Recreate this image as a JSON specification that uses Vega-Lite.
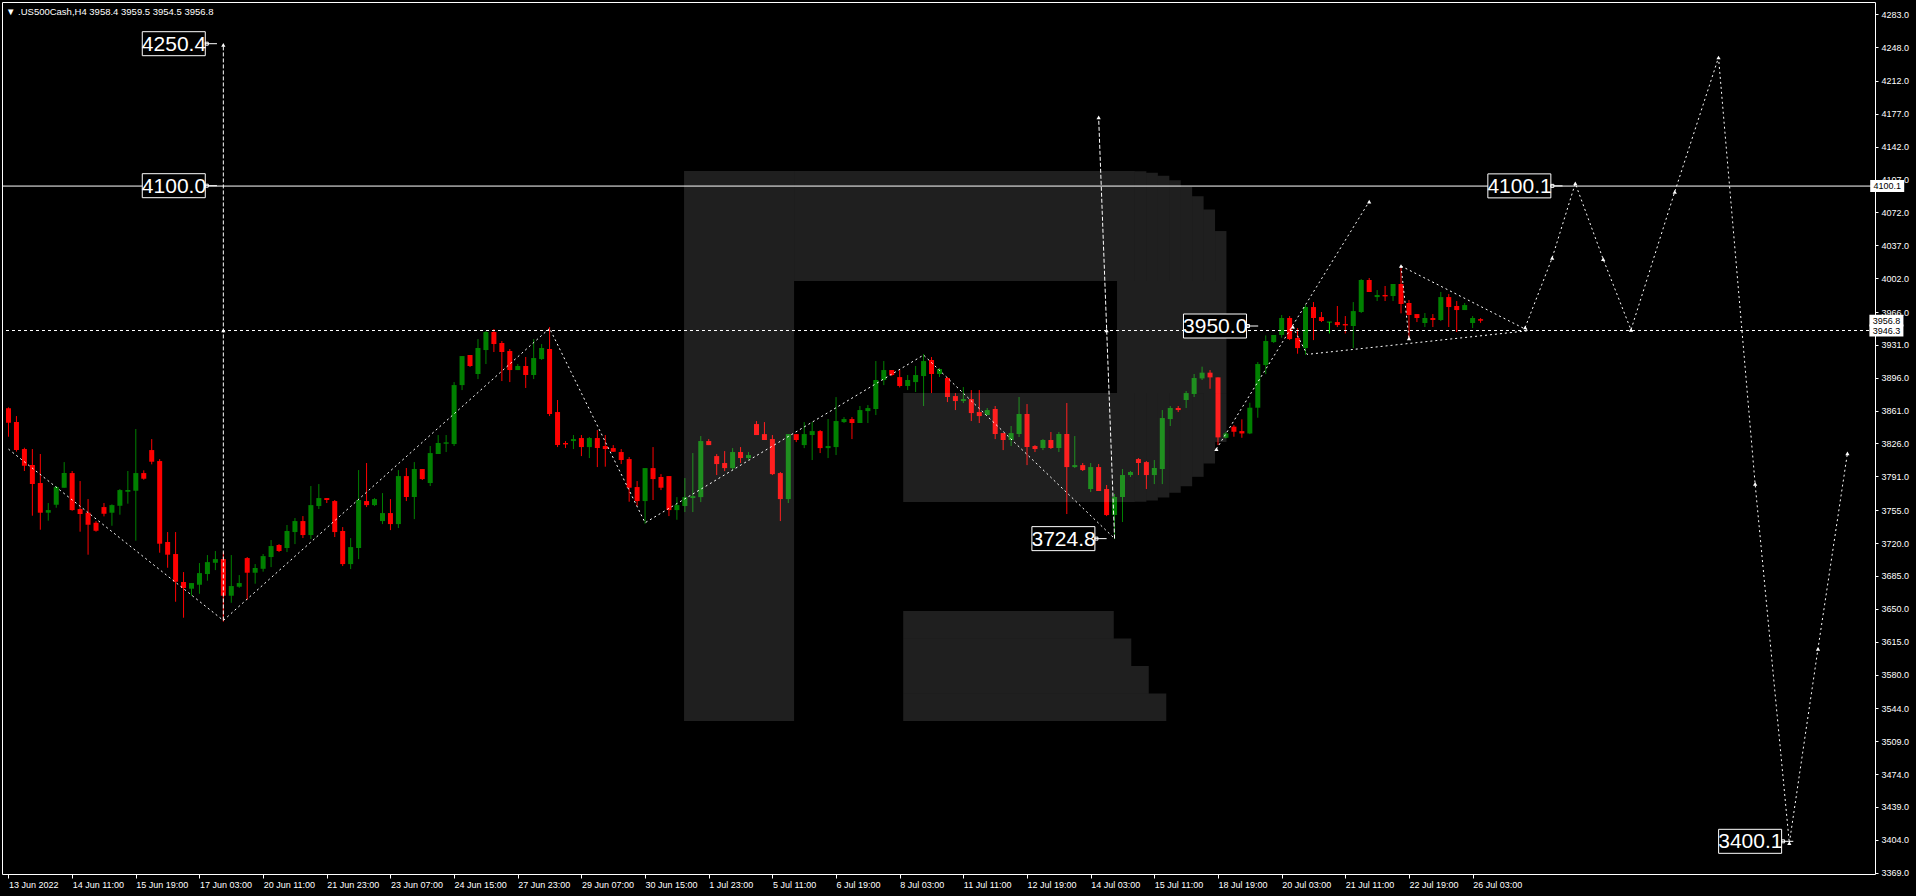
{
"$schema":"https://vega.github.io/schema/vega-lite/v6.json",
"width":1873,"height":872,
"autosize":{"type":"none"},
"padding":{"left":2,"top":2,"right":41,"bottom":22},
"background":"#000000",
"config":{"view":{"stroke":"#ffffff","strokeWidth":1},"font":"Liberation Sans","axis":{"labelOverlap":false,"labelBound":false,"labelFlush":false,"labelSeparation":0}},
"title":{"text":"\u25BC  .US500Cash,H4  3958.4 3959.5 3954.5 3956.8","anchor":"start","frame":"group","orient":"none","offset":0,"dy":10,"baseline":"middle","dx":4,"fontSize":9.5,"fontWeight":"normal","color":"#ffffff","font":"Liberation Sans"},
"datasets":{
"candles":[
{"i":0,"o":3863.4,"h":3864.5,"l":3833.2,"c":3848.1},{"i":1,"o":3848.8,"h":3855.2,"l":3817.3,"c":3819.0},{"i":2,"o":3820.1,"h":3821.5,"l":3796.7,"c":3802.3},{"i":3,"o":3803.0,"h":3820.1,"l":3749.1,"c":3782.8},{"i":4,"o":3783.9,"h":3814.8,"l":3734.2,"c":3752.3},{"i":5,"o":3752.3,"h":3762.6,"l":3743.8,"c":3755.1},{"i":6,"o":3760.8,"h":3780.7,"l":3757.6,"c":3779.6},{"i":7,"o":3778.9,"h":3806.2,"l":3778.9,"c":3794.5},{"i":8,"o":3794.5,"h":3796.7,"l":3754.4,"c":3755.1},{"i":9,"o":3756.2,"h":3786.0,"l":3732.1,"c":3750.9},
{"i":10,"o":3752.3,"h":3766.8,"l":3707.6,"c":3739.5},{"i":11,"o":3741.6,"h":3743.4,"l":3732.1,"c":3733.1},{"i":12,"o":3758.3,"h":3762.6,"l":3748.4,"c":3751.2},{"i":13,"o":3752.3,"h":3761.2,"l":3738.4,"c":3760.4},{"i":14,"o":3759.7,"h":3777.5,"l":3750.2,"c":3776.4},{"i":15,"o":3774.6,"h":3796.7,"l":3761.9,"c":3776.4},{"i":16,"o":3775.7,"h":3841.4,"l":3722.5,"c":3794.5},{"i":17,"o":3794.5,"h":3797.4,"l":3787.4,"c":3788.5},{"i":18,"o":3819.0,"h":3830.7,"l":3803.8,"c":3806.6},{"i":19,"o":3807.3,"h":3809.4,"l":3709.7,"c":3719.3},
{"i":20,"o":3721.1,"h":3731.7,"l":3693.7,"c":3707.6},{"i":21,"o":3708.3,"h":3731.7,"l":3657.5,"c":3678.8},{"i":22,"o":3678.5,"h":3689.1,"l":3640.5,"c":3672.1},{"i":23,"o":3671.4,"h":3677.4,"l":3663.9,"c":3677.4},{"i":24,"o":3675.6,"h":3698.7,"l":3666.0,"c":3688.0},{"i":25,"o":3687.0,"h":3707.2,"l":3679.9,"c":3699.7},{"i":26,"o":3699.0,"h":3711.5,"l":3691.2,"c":3702.9},{"i":27,"o":3702.9,"h":3710.8,"l":3636.2,"c":3663.9},{"i":28,"o":3663.9,"h":3707.2,"l":3656.4,"c":3674.2},{"i":29,"o":3673.5,"h":3685.9,"l":3672.4,"c":3677.4},
{"i":30,"o":3704.0,"h":3705.1,"l":3659.6,"c":3688.4},{"i":31,"o":3688.4,"h":3697.6,"l":3676.7,"c":3693.4},{"i":32,"o":3692.6,"h":3708.3,"l":3689.5,"c":3706.1},{"i":33,"o":3705.1,"h":3723.2,"l":3694.4,"c":3716.8},{"i":34,"o":3717.9,"h":3718.9,"l":3710.4,"c":3711.5},{"i":35,"o":3714.7,"h":3739.2,"l":3710.4,"c":3732.8},{"i":36,"o":3731.7,"h":3746.6,"l":3718.9,"c":3743.4},{"i":37,"o":3743.4,"h":3748.7,"l":3725.3,"c":3728.5},{"i":38,"o":3728.5,"h":3780.7,"l":3724.2,"c":3760.4},{"i":39,"o":3759.4,"h":3782.8,"l":3756.2,"c":3767.9},
{"i":40,"o":3767.9,"h":3767.9,"l":3762.6,"c":3765.8},{"i":41,"o":3764.7,"h":3765.8,"l":3726.4,"c":3731.7},{"i":42,"o":3732.8,"h":3737.0,"l":3695.5,"c":3697.6},{"i":43,"o":3697.6,"h":3725.3,"l":3692.3,"c":3715.7},{"i":44,"o":3714.7,"h":3797.7,"l":3702.9,"c":3765.8},{"i":45,"o":3764.7,"h":3805.2,"l":3758.3,"c":3760.4},{"i":46,"o":3760.4,"h":3767.9,"l":3759.4,"c":3766.8},{"i":47,"o":3743.4,"h":3773.2,"l":3740.2,"c":3751.9},{"i":48,"o":3751.9,"h":3766.8,"l":3733.8,"c":3740.2},{"i":49,"o":3740.2,"h":3797.7,"l":3736.0,"c":3791.3},
{"i":50,"o":3791.3,"h":3799.9,"l":3764.7,"c":3769.0},{"i":51,"o":3769.0,"h":3806.2,"l":3745.5,"c":3798.8},{"i":52,"o":3798.8,"h":3798.8,"l":3787.1,"c":3788.1},{"i":53,"o":3783.9,"h":3823.3,"l":3780.7,"c":3815.8},{"i":54,"o":3814.8,"h":3835.0,"l":3814.8,"c":3826.5},{"i":55,"o":3825.8,"h":3835.0,"l":3816.9,"c":3826.8},{"i":56,"o":3825.4,"h":3891.4,"l":3823.3,"c":3888.2},{"i":57,"o":3888.2,"h":3919.1,"l":3882.9,"c":3919.1},{"i":58,"o":3920.2,"h":3920.2,"l":3907.4,"c":3908.5},{"i":59,"o":3900.0,"h":3937.2,"l":3894.6,"c":3927.7},
{"i":60,"o":3925.5,"h":3945.8,"l":3910.6,"c":3944.7},{"i":61,"o":3944.7,"h":3947.9,"l":3923.4,"c":3931.9},{"i":62,"o":3933.0,"h":3935.1,"l":3892.5,"c":3923.4},{"i":63,"o":3924.5,"h":3926.6,"l":3891.4,"c":3904.2},{"i":64,"o":3904.2,"h":3910.6,"l":3904.2,"c":3908.5},{"i":65,"o":3908.5,"h":3918.1,"l":3885.1,"c":3898.9},{"i":66,"o":3898.9,"h":3937.2,"l":3894.6,"c":3917.0},{"i":67,"o":3915.9,"h":3931.9,"l":3914.9,"c":3927.7},{"i":68,"o":3926.6,"h":3950.0,"l":3855.2,"c":3857.4},{"i":69,"o":3859.5,"h":3872.3,"l":3822.2,"c":3824.4},
{"i":70,"o":3826.5,"h":3828.6,"l":3821.2,"c":3825.4},{"i":71,"o":3828.6,"h":3835.0,"l":3820.1,"c":3830.7},{"i":72,"o":3831.8,"h":3835.0,"l":3812.6,"c":3822.2},{"i":73,"o":3822.2,"h":3832.9,"l":3810.5,"c":3831.8},{"i":74,"o":3831.8,"h":3840.3,"l":3800.9,"c":3821.2},{"i":75,"o":3823.3,"h":3835.0,"l":3801.3,"c":3820.1},{"i":76,"o":3821.1,"h":3824.3,"l":3817.2,"c":3817.2},{"i":77,"o":3816.9,"h":3820.1,"l":3804.1,"c":3808.4},{"i":78,"o":3809.4,"h":3811.6,"l":3764.0,"c":3778.9},{"i":79,"o":3779.6,"h":3786.0,"l":3759.7,"c":3764.7},
{"i":80,"o":3764.7,"h":3799.8,"l":3740.5,"c":3799.8},{"i":81,"o":3799.8,"h":3822.2,"l":3765.8,"c":3788.1},{"i":82,"o":3790.3,"h":3793.4,"l":3776.4,"c":3778.9},{"i":83,"o":3791.3,"h":3791.3,"l":3748.7,"c":3755.1},{"i":84,"o":3755.1,"h":3768.9,"l":3744.8,"c":3760.4},{"i":85,"o":3759.4,"h":3789.2,"l":3753.0,"c":3768.9},{"i":86,"o":3767.9,"h":3815.8,"l":3753.0,"c":3770.0},{"i":87,"o":3768.9,"h":3833.9,"l":3763.6,"c":3828.6},{"i":88,"o":3828.6,"h":3830.7,"l":3824.3,"c":3824.3},{"i":89,"o":3812.6,"h":3814.7,"l":3792.4,"c":3804.1},
{"i":90,"o":3805.2,"h":3817.9,"l":3796.6,"c":3799.8},{"i":91,"o":3799.8,"h":3821.1,"l":3797.7,"c":3816.9},{"i":92,"o":3816.9,"h":3822.2,"l":3805.2,"c":3810.5},{"i":93,"o":3810.5,"h":3816.9,"l":3808.4,"c":3813.7},{"i":94,"o":3846.7,"h":3849.9,"l":3835.0,"c":3835.0},{"i":95,"o":3836.0,"h":3848.8,"l":3829.7,"c":3829.7},{"i":96,"o":3830.7,"h":3835.0,"l":3792.4,"c":3793.4},{"i":97,"o":3794.5,"h":3795.6,"l":3743.4,"c":3766.8},{"i":98,"o":3766.8,"h":3836.0,"l":3762.6,"c":3836.0},{"i":99,"o":3836.0,"h":3836.0,"l":3827.5,"c":3829.7},
{"i":100,"o":3824.3,"h":3848.8,"l":3821.1,"c":3836.0},{"i":101,"o":3835.0,"h":3848.8,"l":3808.4,"c":3839.2},{"i":102,"o":3839.2,"h":3840.3,"l":3815.8,"c":3821.1},{"i":103,"o":3821.1,"h":3852.0,"l":3810.5,"c":3823.3},{"i":104,"o":3822.2,"h":3875.4,"l":3813.7,"c":3849.9},{"i":105,"o":3848.8,"h":3854.1,"l":3847.8,"c":3852.0},{"i":106,"o":3852.0,"h":3854.1,"l":3830.7,"c":3847.8},{"i":107,"o":3847.8,"h":3865.9,"l":3847.8,"c":3861.6},{"i":108,"o":3860.5,"h":3866.9,"l":3847.8,"c":3863.7},{"i":109,"o":3862.7,"h":3913.8,"l":3856.3,"c":3893.6},
{"i":110,"o":3893.6,"h":3913.8,"l":3888.2,"c":3904.2},{"i":111,"o":3904.2,"h":3904.2,"l":3897.8,"c":3898.9},{"i":112,"o":3896.7,"h":3904.2,"l":3885.7,"c":3887.2},{"i":113,"o":3887.2,"h":3898.9,"l":3882.9,"c":3893.6},{"i":114,"o":3891.4,"h":3908.5,"l":3880.8,"c":3898.9},{"i":115,"o":3897.8,"h":3921.3,"l":3865.9,"c":3913.8},{"i":116,"o":3914.9,"h":3918.1,"l":3879.7,"c":3900.0},{"i":117,"o":3900.0,"h":3906.4,"l":3896.8,"c":3905.3},{"i":118,"o":3895.7,"h":3896.8,"l":3870.1,"c":3875.5},{"i":119,"o":3876.5,"h":3879.7,"l":3861.6,"c":3871.2},
{"i":120,"o":3871.2,"h":3886.1,"l":3869.1,"c":3873.3},{"i":121,"o":3873.3,"h":3882.9,"l":3849.9,"c":3858.4},{"i":122,"o":3859.5,"h":3882.9,"l":3847.8,"c":3855.2},{"i":123,"o":3856.3,"h":3863.8,"l":3856.3,"c":3861.6},{"i":124,"o":3862.7,"h":3865.9,"l":3830.7,"c":3836.1},{"i":125,"o":3837.1,"h":3837.1,"l":3819.0,"c":3829.7},{"i":126,"o":3829.7,"h":3844.6,"l":3823.3,"c":3837.1},{"i":127,"o":3836.1,"h":3875.5,"l":3832.9,"c":3857.4},{"i":128,"o":3857.4,"h":3868.0,"l":3803.0,"c":3822.2},{"i":129,"o":3823.3,"h":3824.3,"l":3816.9,"c":3820.1},
{"i":130,"o":3821.2,"h":3830.7,"l":3819.0,"c":3829.7},{"i":131,"o":3829.7,"h":3838.2,"l":3820.1,"c":3821.2},{"i":132,"o":3821.2,"h":3838.2,"l":3816.9,"c":3836.1},{"i":133,"o":3836.1,"h":3869.1,"l":3750.9,"c":3800.9},{"i":134,"o":3800.9,"h":3833.9,"l":3799.9,"c":3803.0},{"i":135,"o":3803.0,"h":3805.2,"l":3796.7,"c":3797.7},{"i":136,"o":3777.5,"h":3805.2,"l":3774.3,"c":3800.9},{"i":137,"o":3800.9,"h":3804.1,"l":3775.4,"c":3775.4},{"i":138,"o":3777.5,"h":3781.8,"l":3748.7,"c":3749.8},{"i":139,"o":3749.8,"h":3772.2,"l":3724.2,"c":3769.0},
{"i":140,"o":3769.0,"h":3798.8,"l":3742.4,"c":3792.4},{"i":141,"o":3792.4,"h":3796.7,"l":3790.3,"c":3795.6},{"i":142,"o":3809.4,"h":3810.5,"l":3792.4,"c":3805.2},{"i":143,"o":3806.2,"h":3807.3,"l":3777.5,"c":3792.4},{"i":144,"o":3792.4,"h":3808.4,"l":3782.8,"c":3799.9},{"i":145,"o":3798.8,"h":3861.6,"l":3782.8,"c":3853.1},{"i":146,"o":3852.0,"h":3865.9,"l":3844.6,"c":3863.8},{"i":147,"o":3863.8,"h":3865.9,"l":3859.5,"c":3861.6},{"i":148,"o":3872.3,"h":3881.9,"l":3863.8,"c":3879.7},{"i":149,"o":3878.7,"h":3900.0,"l":3875.5,"c":3895.7},
{"i":150,"o":3895.3,"h":3907.8,"l":3893.6,"c":3901.4},{"i":151,"o":3901.4,"h":3904.2,"l":3884.3,"c":3896.4},{"i":152,"o":3896.4,"h":3896.4,"l":3824.3,"c":3832.5},{"i":153,"o":3832.1,"h":3838.2,"l":3831.4,"c":3836.7},{"i":154,"o":3843.9,"h":3845.6,"l":3833.2,"c":3838.5},{"i":155,"o":3839.2,"h":3851.7,"l":3832.1,"c":3836.7},{"i":156,"o":3836.7,"h":3869.4,"l":3836.0,"c":3864.1},{"i":157,"o":3864.1,"h":3912.7,"l":3853.4,"c":3910.6},{"i":158,"o":3909.5,"h":3941.1,"l":3899.9,"c":3935.1},{"i":159,"o":3934.0,"h":3941.5,"l":3933.0,"c":3941.5},
{"i":160,"o":3941.5,"h":3962.8,"l":3938.6,"c":3959.6},{"i":161,"o":3959.6,"h":3961.7,"l":3936.1,"c":3937.2},{"i":162,"o":3938.3,"h":3948.9,"l":3921.6,"c":3927.6},{"i":163,"o":3927.6,"h":3973.4,"l":3920.5,"c":3971.3},{"i":164,"o":3971.3,"h":3976.6,"l":3936.1,"c":3959.6},{"i":165,"o":3960.6,"h":3966.0,"l":3955.3,"c":3956.4},{"i":166,"o":3955.3,"h":3955.3,"l":3943.2,"c":3955.3},{"i":167,"o":3955.3,"h":3972.4,"l":3950.0,"c":3952.1},{"i":168,"o":3953.2,"h":3961.7,"l":3943.2,"c":3952.1},{"i":169,"o":3951.1,"h":3976.6,"l":3927.6,"c":3967.0},
{"i":170,"o":3966.0,"h":4001.1,"l":3964.9,"c":4000.1},{"i":171,"o":4000.1,"h":4002.2,"l":3987.3,"c":3987.3},{"i":172,"o":3981.9,"h":3989.4,"l":3977.7,"c":3984.1},{"i":173,"o":3984.1,"h":3993.7,"l":3977.7,"c":3983.0},{"i":174,"o":3983.0,"h":3995.8,"l":3977.7,"c":3995.8},{"i":175,"o":3995.8,"h":4015.0,"l":3964.6,"c":3974.5},{"i":176,"o":3975.6,"h":3978.8,"l":3937.9,"c":3962.8},{"i":177,"o":3963.8,"h":3963.8,"l":3955.3,"c":3959.6},{"i":178,"o":3954.3,"h":3964.9,"l":3950.0,"c":3959.6},{"i":179,"o":3959.6,"h":3963.8,"l":3950.0,"c":3957.5},
{"i":180,"o":3957.5,"h":3987.3,"l":3956.4,"c":3981.9},{"i":181,"o":3981.9,"h":3985.1,"l":3950.0,"c":3971.3},{"i":182,"o":3972.4,"h":3977.7,"l":3944.7,"c":3968.1},{"i":183,"o":3968.1,"h":3975.6,"l":3968.1,"c":3973.4},{"i":184,"o":3954.3,"h":3961.7,"l":3948.9,"c":3959.6},{"i":185,"o":3958.4,"h":3959.5,"l":3954.5,"c":3956.8}
],
"paths":[
{"seg":"A","style":"dot","k":0,"i":0,"p":3820.0},{"seg":"A","style":"dot","k":1,"i":27,"p":3637.6},{"seg":"A","style":"dot","k":2,"i":68,"p":3948.6},{"seg":"A","style":"dot","k":3,"i":80,"p":3741.6},{"seg":"A","style":"dot","k":4,"i":115,"p":3920.2},{"seg":"A","style":"dot","k":5,"i":139,"p":3724.8},
{"seg":"B","style":"dash","k":0,"i":27,"p":3637.6},{"seg":"B","style":"dash","k":1,"i":27,"p":4250.4},
{"seg":"C","style":"dash","k":0,"i":139,"p":3724.8},{"seg":"C","style":"dash","k":1,"i":137,"p":4173.3},
{"seg":"D","style":"dot","k":0,"i":151.8,"p":3820.0},{"seg":"D","style":"dot","k":1,"i":171,"p":4083.6},
{"seg":"E","style":"dot","k":0,"i":161.4,"p":3950.3},{"seg":"E","style":"dot","k":1,"i":163.2,"p":3920.9},{"seg":"E","style":"dot","k":2,"i":191,"p":3946.1},
{"seg":"G","style":"dot","k":0,"i":175,"p":4015.0},{"seg":"G","style":"dot","k":1,"i":191,"p":3946.1},
{"seg":"H","style":"dot","k":0,"i":175,"p":4015.0},{"seg":"H","style":"dot","k":1,"i":176,"p":3938.0},
{"seg":"I","style":"dot","k":0,"i":190.6,"p":3949.5},{"seg":"I","style":"dot","k":1,"i":194,"p":4023.7},{"seg":"I","style":"dot","k":2,"i":196.9,"p":4103.0},{"seg":"I","style":"dot","k":3,"i":200.4,"p":4022.4},{"seg":"I","style":"dot","k":4,"i":203.9,"p":3947.0},{"seg":"I","style":"dot","k":5,"i":209.4,"p":4094.0},{"seg":"I","style":"dot","k":6,"i":214.9,"p":4237.0},{"seg":"I","style":"dot","k":7,"i":219.5,"p":3783.0},{"seg":"I","style":"dot","k":8,"i":223.8,"p":3400.4},{"seg":"I","style":"dot","k":9,"i":227.4,"p":3607.4},{"seg":"I","style":"dot","k":10,"i":231.1,"p":3815.5}
],
"marks":[
{"i":27,"p":4250.4},{"i":27,"p":3946.3},{"i":138.0,"p":3946.3},{"i":137,"p":4173.3},{"i":171,"p":4083.6},{"i":151.8,"p":3820.0},{"i":161.4,"p":3950.3},{"i":175,"p":4015.0},{"i":176,"p":3938.0},{"i":190.6,"p":3949.5},{"i":194,"p":4023.7},{"i":196.9,"p":4103.0},{"i":200.4,"p":4022.4},{"i":203.9,"p":3947.0},{"i":209.4,"p":4094.0},{"i":214.9,"p":4237.0},{"i":219.5,"p":3783.0},{"i":223.8,"p":3400.4},{"i":227.4,"p":3607.4},{"i":231.1,"p":3815.5}
],
"labels":[
{"i":26.2,"p":4251.7,"text":"4250.4"},{"i":26.2,"p":4100.5,"text":"4100.0"},{"i":157.05,"p":3951.1,"text":"3950.0"},{"i":138.0,"p":3724.7,"text":"3724.8"},{"i":195.3,"p":4100.3,"text":"4100.1"},{"i":224.3,"p":3402.4,"text":"3400.1"}
],
"hlines":[{"p":4100.1,"style":"solid"},{"p":3946.3,"style":"dash"}],
"axisbox":[{"i":236.1,"p":4100.1,"text":"4100.1"},{"i":236.0,"p":3956.8,"text":"3956.8"},{"i":236.0,"p":3946.3,"text":"3946.3"}],
"logo":[
{"x1":84.9,"x2":98.725,"y1":3530.4,"y2":4116.1},
{"x1":98.725,"x2":141.56,"y1":3999.0,"y2":4116.1},
{"x1":141.56,"x2":143.0,"y1":3999.0,"y2":4115.9},
{"x1":143.0,"x2":144.44,"y1":3999.0,"y2":4114.4},
{"x1":144.44,"x2":145.88,"y1":3999.0,"y2":4111.2},
{"x1":145.88,"x2":147.31,"y1":3999.0,"y2":4106.2},
{"x1":147.31,"x2":148.75,"y1":3999.0,"y2":4099.2},
{"x1":148.75,"x2":150.19,"y1":3999.0,"y2":4089.3},
{"x1":150.19,"x2":151.63,"y1":3999.0,"y2":4075.2},
{"x1":151.63,"x2":153.06,"y1":3999.0,"y2":4052.2},
{"x1":139.31,"x2":153.06,"y1":3879.7,"y2":3999.0},
{"x1":112.44,"x2":141.56,"y1":3763.6,"y2":3879.7},
{"x1":141.56,"x2":143.0,"y1":3763.9,"y2":3879.7},
{"x1":143.0,"x2":144.44,"y1":3765.4,"y2":3879.7},
{"x1":144.44,"x2":145.88,"y1":3768.6,"y2":3879.7},
{"x1":145.88,"x2":147.31,"y1":3773.6,"y2":3879.7},
{"x1":147.31,"x2":148.75,"y1":3780.6,"y2":3879.7},
{"x1":148.75,"x2":150.19,"y1":3790.5,"y2":3879.7},
{"x1":150.19,"x2":151.63,"y1":3804.6,"y2":3879.7},
{"x1":151.63,"x2":153.06,"y1":3827.6,"y2":3879.7},
{"x1":112.44,"x2":138.9,"y1":3618.3,"y2":3647.6},
{"x1":112.44,"x2":141.1,"y1":3589.1,"y2":3618.3},
{"x1":112.44,"x2":143.3,"y1":3559.8,"y2":3589.1},
{"x1":112.44,"x2":145.5,"y1":3530.4,"y2":3559.8}
]
},
"layer":[
{"data":{"name":"candles"},"mark":{"type":"rule","orient":"vertical","strokeWidth":1},
 "encoding":{
  "x":{"field":"i","type":"quantitative","scale":{"domain":[-0.1875,233.9375],"nice":false,"zero":false},
   "axis":{"orient":"bottom","values":[0,8,16,24,32,40,48,56,64,72,80,88,96,104,112,120,128,136,144,152,160,168,176,184],"tickCount":60,
    "labelExpr":"['13 Jun 2022','14 Jun 11:00','15 Jun 19:00','17 Jun 03:00','20 Jun 11:00','21 Jun 23:00','23 Jun 07:00','24 Jun 15:00','27 Jun 23:00','29 Jun 07:00','30 Jun 15:00','1 Jul 23:00','5 Jul 11:00','6 Jul 19:00','8 Jul 03:00','11 Jul 11:00','12 Jul 19:00','14 Jul 03:00','15 Jul 11:00','18 Jul 19:00','20 Jul 03:00','21 Jul 11:00','22 Jul 19:00','26 Jul 03:00'][round(datum.value/8)]",
    "title":null,"grid":false,"domain":false,"tickColor":"#ffffff","tickSize":4,"labelColor":"#ffffff","labelFont":"Liberation Sans","labelFontSize":9,"labelAlign":"left","labelBaseline":"top","labelPadding":2,"labelFlush":false,"labelOverlap":false,"labelBound":false,"zindex":0}},
  "y":{"field":"l","type":"quantitative","scale":{"domain":[3367.6,4296.1],"nice":false,"zero":false},
   "axis":{"orient":"right","values":[4283,4248,4212,4177,4142,4107,4072,4037,4002,3966,3931,3896,3861,3826,3791,3755,3720,3685,3650,3615,3580,3544,3509,3474,3439,3404,3369],"tickCount":60,
    "format":".1f","title":null,"grid":false,"domain":false,"tickColor":"#ffffff","tickSize":3,"labelColor":"#ffffff","labelFont":"Liberation Sans","labelFontSize":9,"labelPadding":3,"labelOverlap":false,"labelBound":false,"labelFlush":false,"zindex":0}},
  "y2":{"field":"h"},
  "color":{"condition":[{"test":"datum.c>datum.o","value":"#008000"},{"test":"datum.c<datum.o","value":"#ff0000"}],"value":"#00e000"}
 }},
{"data":{"name":"candles"},"mark":{"type":"bar","orient":"vertical","size":5},
 "encoding":{"x":{"field":"i","type":"quantitative"},"y":{"field":"o","type":"quantitative"},"y2":{"field":"c"},
  "color":{"condition":[{"test":"datum.c>datum.o","value":"#008000"},{"test":"datum.c<datum.o","value":"#ff0000"}],"value":"#00e000"}}},
{"data":{"name":"candles"},"transform":[{"filter":"abs(datum.c-datum.o)<1.2"}],"mark":{"type":"tick","orient":"horizontal","size":5,"thickness":1},
 "encoding":{"x":{"field":"i","type":"quantitative"},"y":{"field":"c","type":"quantitative"},
  "color":{"condition":[{"test":"datum.c>datum.o","value":"#008000"},{"test":"datum.c<datum.o","value":"#ff0000"}],"value":"#00e000"}}},
{"data":{"name":"logo"},"mark":{"type":"rect","fill":"#ffffff","opacity":0.12},
 "encoding":{"x":{"field":"x1","type":"quantitative"},"x2":{"field":"x2"},"y":{"field":"y1","type":"quantitative"},"y2":{"field":"y2"}}},
{"data":{"name":"hlines"},"transform":[{"filter":"datum.style=='solid'"}],"mark":{"type":"rule","color":"#ffffff","strokeWidth":1},
 "encoding":{"y":{"field":"p","type":"quantitative"}}},
{"data":{"name":"hlines"},"transform":[{"filter":"datum.style=='dash'"}],"mark":{"type":"rule","color":"#ffffff","strokeWidth":1,"strokeDash":[3,3]},
 "encoding":{"y":{"field":"p","type":"quantitative"}}},
{"data":{"name":"paths"},"transform":[{"filter":"datum.style=='dot'"}],"mark":{"type":"line","color":"#ffffff","strokeWidth":1,"strokeDash":[2,3]},
 "encoding":{"x":{"field":"i","type":"quantitative"},"y":{"field":"p","type":"quantitative"},"detail":{"field":"seg"},"order":{"field":"k"}}},
{"data":{"name":"paths"},"transform":[{"filter":"datum.style=='dash'"}],"mark":{"type":"line","color":"#ffffff","strokeWidth":1,"strokeDash":[4,2]},
 "encoding":{"x":{"field":"i","type":"quantitative"},"y":{"field":"p","type":"quantitative"},"detail":{"field":"seg"},"order":{"field":"k"}}},
{"data":{"name":"marks"},"mark":{"type":"point","shape":"triangle-up","filled":true,"size":18,"color":"#ffffff","opacity":1},
 "encoding":{"x":{"field":"i","type":"quantitative"},"y":{"field":"p","type":"quantitative"}}},
{"data":{"name":"labels"},"mark":{"type":"point","shape":"M-7.47,-1.2H-1.17V1.2H-7.47Z M-1.17,0H0 M-1.17,-0.15H-0.87V0.15H-1.17Z","size":400,"filled":true,"fill":"#000000","stroke":"#ffffff","strokeWidth":1,"opacity":1},
 "encoding":{"x":{"field":"i","type":"quantitative"},"y":{"field":"p","type":"quantitative"}}},
{"data":{"name":"labels"},"mark":{"type":"text","align":"center","baseline":"middle","dx":-43,"dy":1,"font":"Liberation Sans","fontSize":21,"color":"#ffffff"},
 "encoding":{"x":{"field":"i","type":"quantitative"},"y":{"field":"p","type":"quantitative"},"text":{"field":"text"}}},
{"data":{"name":"axisbox"},"mark":{"type":"point","shape":"M-1,-0.31H1V0.31H-1Z","size":1024,"filled":true,"fill":"#ffffff","stroke":"#ffffff","opacity":1},
 "encoding":{"x":{"field":"i","type":"quantitative"},"y":{"field":"p","type":"quantitative"}}},
{"data":{"name":"axisbox"},"mark":{"type":"text","align":"center","baseline":"middle","font":"Liberation Sans","fontSize":9,"color":"#000000"},
 "encoding":{"x":{"field":"i","type":"quantitative"},"y":{"field":"p","type":"quantitative"},"text":{"field":"text"}}}
]
}
